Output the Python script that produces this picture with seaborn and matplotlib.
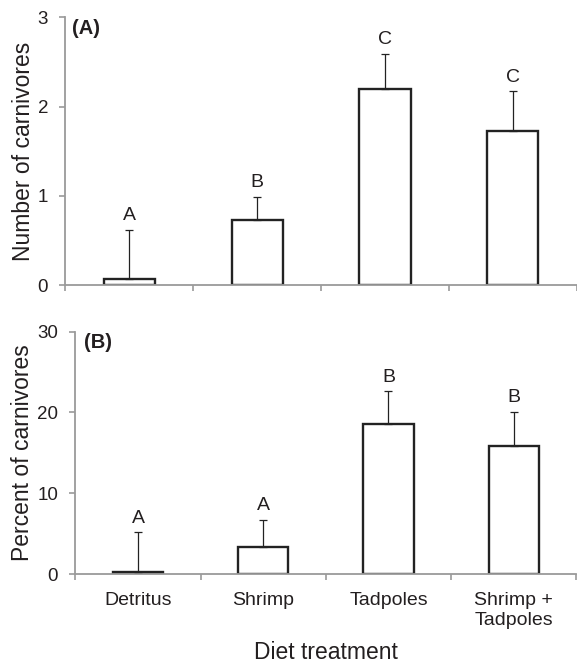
import matplotlib
matplotlib.use("Agg")
import matplotlib.pyplot as plt
import seaborn as sns
import numpy as np

# ---- data ----
categories = ["Detritus", "Shrimp", "Tadpoles", "Shrimp +\nTadpoles"]
number_mean = [0.07, 0.73, 2.20, 1.73]
number_se = [0.55, 0.26, 0.39, 0.44]
number_letters = ["A", "B", "C", "C"]
percent_mean = [0.25, 3.3, 18.55, 15.9]
percent_se = [4.9, 3.4, 4.1, 4.2]
percent_letters = ["A", "A", "B", "B"]
number_ticks = [0, 1, 2, 3]
percent_ticks = [0, 10, 20, 30]

sns.set_theme(style="white")
plt.rcParams["font.family"] = ["Liberation Sans", "DejaVu Sans"]

TXT = "#231f20"
GREY = "#9a9a9a"
EDGE = "#222222"

fig = plt.figure(figsize=(5.77, 6.65), dpi=100)
axA = fig.add_axes([0.1135, 0.5714, 0.886, 0.4026])
axB = fig.add_axes([0.1308, 0.1368, 0.868, 0.3644])


def panel(ax, means, se, letters, ticks, ylabel, tag, show_x, tagx):
    sns.barplot(x=categories, y=means, ax=ax, width=0.4, color="white",
                edgecolor=EDGE, linewidth=1.7, errorbar=None, saturation=1)
    xs = np.arange(len(categories))
    ax.errorbar(xs, means, yerr=[np.zeros(len(se)), se], fmt="none",
                ecolor=EDGE, elinewidth=0.9, capsize=3, capthick=0.9, zorder=3)
    for x, m, s, l in zip(xs, means, se, letters):
        ax.annotate(l, (x, m + s), xytext=(0, 4), textcoords="offset points",
                    ha="center", va="bottom", fontsize=14, color=TXT)
    ax.set_xlim(-0.5, len(categories) - 0.5)
    ax.set_ylim(ticks[0], ticks[-1])
    ax.set_yticks(ticks)
    ax.set_yticklabels([str(t) for t in ticks])
    ax.set_ylabel(ylabel, fontsize=16.5, color=TXT, labelpad=2)
    for s in ["top", "right"]:
        ax.spines[s].set_visible(False)
    for s in ["left", "bottom"]:
        ax.spines[s].set_color(GREY)
        ax.spines[s].set_linewidth(1.3)
    ax.tick_params(axis="y", direction="out", length=4.5, width=1.2,
                   color=GREY, labelsize=13.5, labelcolor=TXT, pad=8, left=True)
    ax.set_xticks(xs)
    ax.set_xticks(np.arange(-0.5, len(categories)), minor=True)
    ax.tick_params(axis="x", which="major", length=0, labelsize=14,
                   labelcolor=TXT, pad=13, bottom=True)
    ax.tick_params(axis="x", which="minor", direction="out", length=4.5,
                   width=1.2, color=GREY, bottom=True)
    if show_x:
        ax.set_xticklabels(categories)
    else:
        ax.set_xticklabels([])
    ax.set_xlabel("")
    ax.text(tagx, 0.995, tag, transform=ax.transAxes, ha="left", va="top",
            fontsize=14.5, fontweight="bold", color=TXT)


panel(axA, number_mean, number_se, number_letters, number_ticks,
      "Number of carnivores", "(A)", False, 0.013)
panel(axB, percent_mean, percent_se, percent_letters, percent_ticks,
      "Percent of carnivores", "(B)", True, 0.018)
axB.set_xlabel("Diet treatment", fontsize=16.5, color=TXT, labelpad=9)

fig.savefig("out.png", dpi=100)
